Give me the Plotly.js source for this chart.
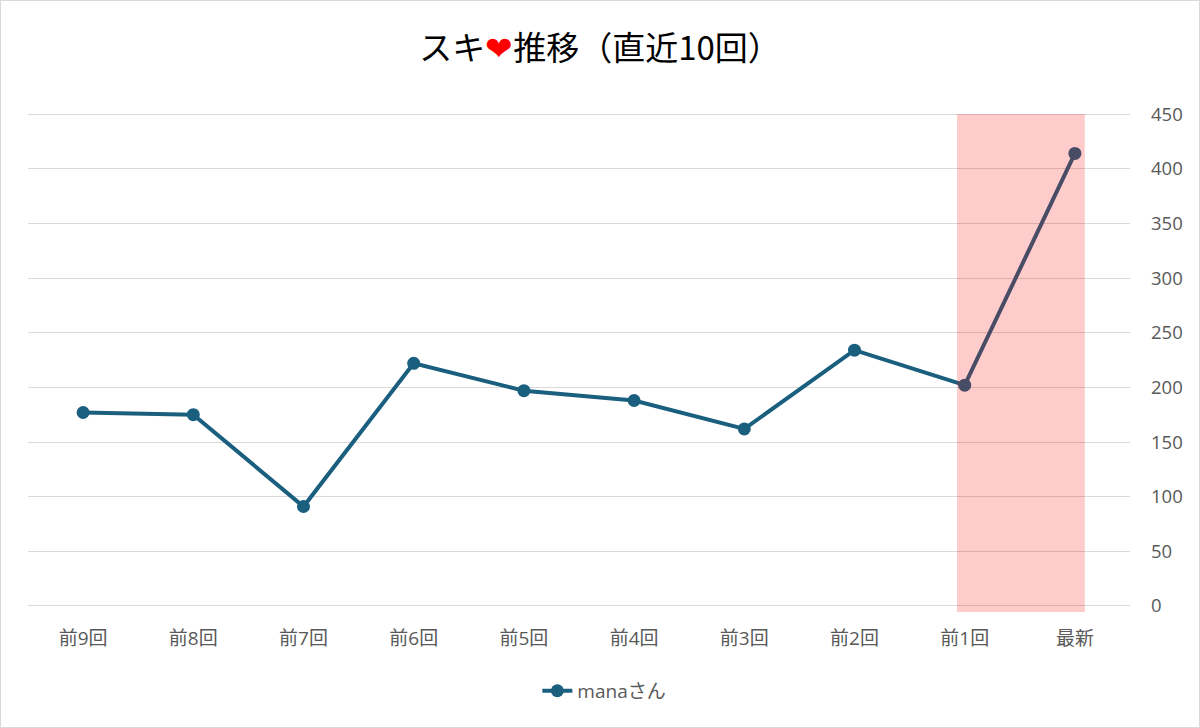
<!DOCTYPE html>
<html>
<head>
<meta charset="utf-8">
<script src="https://cdn.plot.ly/plotly-3.0.1.min.js"></script>
<style>
  html, body { margin: 0; padding: 0; background: #fff; }
  #chart { width: 1198px; height: 726px; border: 1px solid #d9d9d9; }
</style>
</head>
<body>
<div id="chart"></div>
<script>
// data
const rounds = ['前9回', '前8回', '前7回', '前6回', '前5回', '前4回', '前3回', '前2回', '前1回', '最新'];
const likes = [177, 175, 91, 222, 197, 188, 162, 234, 202, 414];
const seriesName = 'manaさん';
const yTicks = [0, 50, 100, 150, 200, 250, 300, 350, 400, 450];

const lineColor = '#1b5f7f';
const textGray = '#595959';
const fontFam = '"Open Sans", "Noto Sans CJK JP", sans-serif';
const titleFam = '"Noto Sans CJK JP", sans-serif';

// highlight the last two rounds
const hlFrom = rounds.indexOf('前1回') - 0.07;
const hlTo = rounds.indexOf('最新') + 0.09;
const yBottom = -5.5;
const yTop = 451;

const gd = document.getElementById('chart');

const data = [
  {
    x: rounds,
    y: likes,
    type: 'scatter',
    mode: 'lines+markers',
    name: seriesName,
    line: { color: lineColor, width: 4 },
    marker: { color: lineColor, size: 13 }
  }
];

const layout = {
  width: 1198,
  height: 726,
  paper_bgcolor: '#fff',
  plot_bgcolor: '#fff',
  font: { family: fontFam, size: 18, color: textGray },
  title: {
    text: 'スキ<span style="color:#ff0000">❤</span>推移（直近10回）',
    font: { family: titleFam, size: 33, color: '#000' },
    x: 0.5, xanchor: 'center',
    y: 0.934, yanchor: 'middle'
  },
  margin: { t: 112, b: 115, l: 27, r: 69 },
  xaxis: {
    type: 'category',
    range: [-0.5, rounds.length - 0.5],
    showgrid: false,
    zeroline: false,
    showline: false,
    ticks: '',
    ticklabelstandoff: 13,
    tickfont: { family: fontFam, size: 19, color: textGray }
  },
  yaxis: {
    side: 'right',
    range: [yBottom, yTop],
    tickvals: yTicks,
    showgrid: true,
    gridcolor: '#d9d9d9',
    gridwidth: 1,
    zeroline: true,
    zerolinecolor: '#d9d9d9',
    zerolinewidth: 1,
    showline: false,
    ticks: '',
    ticklabelstandoff: 20,
    tickfont: { family: fontFam, size: 18.5, color: textGray }
  },
  shapes: [
    {
      type: 'rect',
      xref: 'x', yref: 'y',
      x0: hlFrom, x1: hlTo,
      y0: yBottom, y1: 450,
      fillcolor: 'rgba(255,0,0,0.2)',
      line: { width: 0 },
      layer: 'above'
    }
  ],
  showlegend: true,
  legend: {
    orientation: 'h',
    x: 0.523, xanchor: 'center',
    y: -0.12, yanchor: 'top',
    font: { family: fontFam, size: 19, color: textGray }
  }
};

Plotly.newPlot(gd, data, layout, { displayModeBar: false, staticPlot: true });
</script>
</body>
</html>
